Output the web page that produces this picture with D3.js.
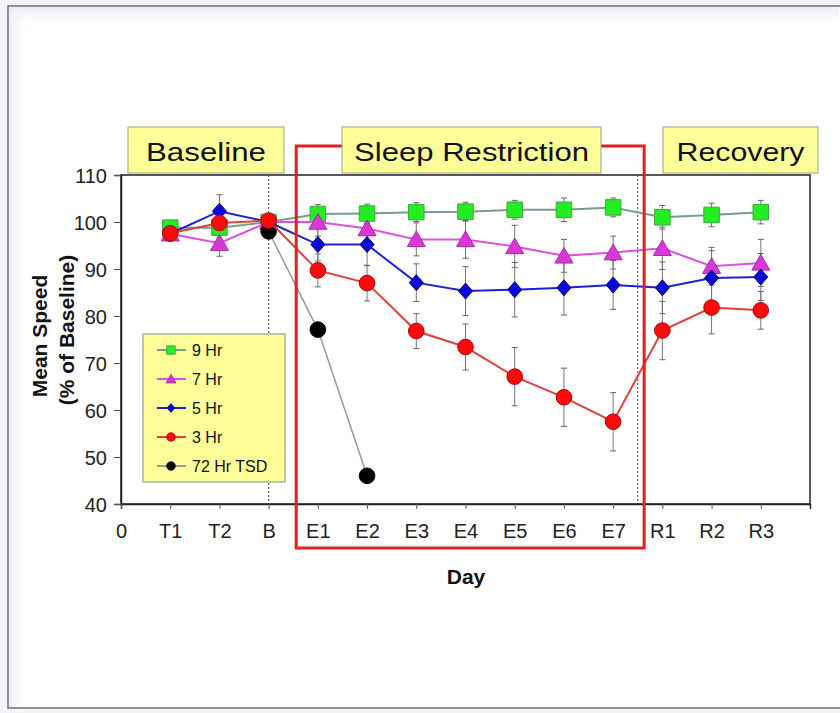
<!DOCTYPE html>
<html><head><meta charset="utf-8">
<script src="https://cdn.jsdelivr.net/npm/d3@7"></script>
<style>
html,body{margin:0;padding:0;background:#fff;}
svg{display:block;font-family:"Liberation Sans",Arial,sans-serif;}
.narrow{font-family:"Liberation Sans Narrow","Arial Narrow","Liberation Sans",sans-serif;}
</style></head>
<body>
<svg id="chart" width="840" height="713"></svg>
<script>
const days = ["0","T1","T2","B","E1","E2","E3","E4","E5","E6","E7","R1","R2","R3"];
const yTicks = [40,50,60,70,80,90,100,110];
const seriesIdx = [1,2,3,4,5,6,7,8,9,10,11,12,13];
const hr9 = [98.8, 98.8, 100, 101.7, 101.8, 102.1, 102.2, 102.6, 102.6, 103.1, 101.0, 101.5, 102.1];
const hr7 = [97.5, 95.5, 100, 100.0, 98.6, 96.3, 96.3, 94.8, 92.8, 93.5, 94.4, 90.6, 91.3];
const hr5 = [97.5, 102.3, 100, 95.2, 95.2, 87.1, 85.3, 85.6, 86.0, 86.6, 86.0, 88.1, 88.3];
const hr3 = [97.6, 99.8, 100.3, 89.7, 87.0, 76.8, 73.4, 67.1, 62.7, 57.5, 76.9, 81.8, 81.2];
const err9 = [1.5, 2, 0, 2, 2, 2, 2, 2, 2.5, 2, 2.5, 2.5, 2.5];
const err7 = [1.5, 2.8, 0, 3, 3, 3.5, 4, 4.5, 3.5, 3.5, 4.5, 4, 5];
const err5 = [1.5, 3.5, 0, 3.5, 4.5, 4, 5.2, 5.8, 5.8, 5.2, 5.5, 5.8, 5];
const err3 = [1.5, 2.5, 0, 3.5, 3.8, 3.7, 4.9, 6.2, 6.2, 6.2, 6.2, 5.6, 4];
const tsdIdx = [3,4,5];
const tsd = [98.0, 77.1, 46.0];
const legendLabels = ["9 Hr","7 Hr","5 Hr","3 Hr","72 Hr TSD"];
const phaseLabels = ["Baseline","Sleep Restriction","Recovery"];

const svg = d3.select("#chart");
// page frame
const defs = svg.append("defs");
const lg = defs.append("linearGradient").attr("id","edgeL").attr("x1",0).attr("x2",1);
lg.append("stop").attr("offset",0).attr("stop-color","#e8edf3");
lg.append("stop").attr("offset",1).attr("stop-color","#ffffff").attr("stop-opacity",0);
const tg = defs.append("linearGradient").attr("id","edgeT").attr("x1",0).attr("x2",0).attr("y1",0).attr("y2",1);
tg.append("stop").attr("offset",0).attr("stop-color","#e8edf3");
tg.append("stop").attr("offset",1).attr("stop-color","#ffffff").attr("stop-opacity",0);
svg.append("rect").attr("x",0).attr("y",0).attr("width",840).attr("height",713).attr("fill","#f4f4f6");
svg.append("rect").attr("x",8).attr("y",6).attr("width",840).attr("height",702).attr("fill","#fff").attr("stroke","#6d6d75").attr("stroke-width",1.5);
svg.append("rect").attr("x",9).attr("y",7).attr("width",22).attr("height",700).attr("fill","url(#edgeL)");
svg.append("rect").attr("x",9).attr("y",7).attr("width",830).attr("height",22).attr("fill","url(#edgeT)");

const x = d3.scaleLinear().domain([0,14]).range([121,810]);
const y = d3.scaleLinear().domain([40,110]).range([504,175]);

// plot frame
svg.append("rect").attr("x",x(0)).attr("y",y(110)).attr("width",x(14)-x(0)).attr("height",y(40)-y(110))
  .attr("fill","#fff").attr("stroke","#222").attr("stroke-width",1.5);

// dotted dividers
[3,10.5].forEach(v=>{
  svg.append("line").attr("x1",x(v)).attr("x2",x(v)).attr("y1",y(110)).attr("y2",y(40))
    .attr("stroke","#444").attr("stroke-width",1).attr("stroke-dasharray","2,2");
});

// axes
const yAxis = svg.append("g").attr("transform",`translate(${x(0)},0)`)
  .call(d3.axisLeft(y).tickValues(yTicks).tickSize(7).tickPadding(7).tickFormat(d3.format("d")));
const xAxis = svg.append("g").attr("transform",`translate(0,${y(40)})`)
  .call(d3.axisBottom(x).tickValues(d3.range(days.length)).tickSize(5).tickPadding(15).tickFormat(i=>days[i]));
[yAxis,xAxis].forEach(g=>{
  g.attr("font-family",null);
  g.select(".domain").attr("stroke","#222").attr("stroke-width",1.5);
  g.selectAll(".tick line").attr("stroke","#555");
  g.selectAll("text").attr("class","narrow").attr("fill","#222").style("font-size","20px");
});
yAxis.selectAll("text").attr("dy","0.36em");

// axis titles
svg.append("text").attr("transform","translate(47,336) rotate(-90)").attr("text-anchor","middle")
  .style("font-size","21px").style("font-weight","bold").attr("fill","#111").text("Mean Speed");
svg.append("text").attr("transform","translate(74,330) rotate(-90)").attr("text-anchor","middle")
  .style("font-size","21px").style("font-weight","bold").attr("fill","#111").text("(% of Baseline)");
svg.append("text").attr("x",466).attr("y",584).attr("text-anchor","middle")
  .style("font-size","21px").style("font-weight","bold").attr("fill","#111").text("Day");

const series = [
  {vals:hr9, err:err9, line:"#7a9c88", fill:"#22ee22", stroke:"#3aa83a", shape:"square"},
  {vals:hr7, err:err7, line:"#e050e0", fill:"#d838d8", stroke:"#a828a8", shape:"triangle"},
  {vals:hr5, err:err5, line:"#2020d0", fill:"#0808d8", stroke:"#000090", shape:"diamond"},
  {vals:hr3, err:err3, line:"#e04040", fill:"#ff0a0a", stroke:"#b00000", shape:"circle"}
];
const tsdSeries = {line:"#999", fill:"#000", stroke:"#000", shape:"circle"};

function shapePath(shape, s){
  if(shape==="square") return d3.symbol(d3.symbolSquare, (15.5*s)*(15.5*s))();
  if(shape==="triangle"){ const h=8.5*s, w=9*s; return `M0,${-h}L${w},${h*0.85}L${-w},${h*0.85}Z`; }
  if(shape==="diamond"){ const h=8*s, w=7*s; return `M0,${-h}L${w},0L0,${h}L${-w},0Z`; }
  return d3.symbol(d3.symbolCircle, Math.PI*(7.8*s)*(7.8*s))();
}

// error bars
const eg = svg.append("g");
series.forEach(sr=>{
  seriesIdx.forEach((xi,k)=>{
    const e = sr.err[k]; if(!e) return;
    const v = sr.vals[k];
    const cx = x(xi);
    eg.append("line").attr("x1",cx).attr("x2",cx).attr("y1",y(v+e)).attr("y2",y(v-e)).attr("stroke","#777").attr("stroke-width",1);
    [v+e,v-e].forEach(t=>eg.append("line").attr("x1",cx-3).attr("x2",cx+3).attr("y1",y(t)).attr("y2",y(t)).attr("stroke","#666").attr("stroke-width",1));
  });
});

const line = d3.line().x(d=>x(d[0])).y(d=>y(d[1]));
function drawSeries(pts, sr, w){
  svg.append("path").attr("d",line(pts)).attr("fill","none").attr("stroke",sr.line).attr("stroke-width",w);
  svg.append("g").selectAll("path").data(pts).join("path")
    .attr("transform",d=>`translate(${x(d[0])},${y(d[1])})`)
    .attr("d",shapePath(sr.shape,1)).attr("fill",sr.fill).attr("stroke",sr.stroke).attr("stroke-width",1);
}
drawSeries(seriesIdx.map((xi,k)=>[xi,hr9[k]]), series[0], 2);
drawSeries(seriesIdx.map((xi,k)=>[xi,hr7[k]]), series[1], 2);
drawSeries(seriesIdx.map((xi,k)=>[xi,hr5[k]]), series[2], 2);
drawSeries(tsdIdx.map((xi,k)=>[xi,tsd[k]]), tsdSeries, 1.5);
drawSeries(seriesIdx.map((xi,k)=>[xi,hr3[k]]), series[3], 2);

// legend
const lgX = 143, lgY = 334;
svg.append("rect").attr("x",lgX).attr("y",lgY).attr("width",142).attr("height",148)
  .attr("fill","#ffff99").attr("stroke","#888").attr("stroke-width",1);
const legSeries = [series[0],series[1],series[2],series[3],tsdSeries];
legendLabels.forEach((lab,i)=>{
  const cy = lgY + 16 + i*29;
  const sr = legSeries[i];
  svg.append("line").attr("x1",lgX+14).attr("x2",lgX+43).attr("y1",cy).attr("y2",cy).attr("stroke",sr.line).attr("stroke-width",2);
  svg.append("path").attr("transform",`translate(${lgX+28},${cy})`).attr("d",shapePath(sr.shape,0.55))
    .attr("fill",sr.fill).attr("stroke",sr.stroke).attr("stroke-width",0.8);
  svg.append("text").attr("class","narrow").attr("x",lgX+49).attr("y",cy).attr("dy","0.36em")
    .style("font-size","16px").attr("fill","#111").text(lab);
});

// red sleep restriction frame
svg.append("rect").attr("x",x(3.56)).attr("y",146).attr("width",x(10.63)-x(3.56)).attr("height",548-146)
  .attr("fill","none").attr("stroke","#e02020").attr("stroke-width",3);

// phase label boxes
const boxes = [
  {x0:128, x1:284, tw:120},
  {x0:342, x1:601, tw:235},
  {x0:663, x1:818, tw:128}
];
phaseLabels.forEach((lab,i)=>{
  const b = boxes[i];
  svg.append("rect").attr("x",b.x0).attr("y",127).attr("width",b.x1-b.x0).attr("height",46)
    .attr("fill","#ffff99").attr("stroke","#a0a080").attr("stroke-width",1);
  svg.append("text").attr("x",(b.x0+b.x1)/2).attr("y",161).attr("text-anchor","middle")
    .attr("textLength",b.tw).attr("lengthAdjust","spacingAndGlyphs")
    .style("font-size","25px").attr("fill","#111").text(lab);
});
</script>
</body></html>
